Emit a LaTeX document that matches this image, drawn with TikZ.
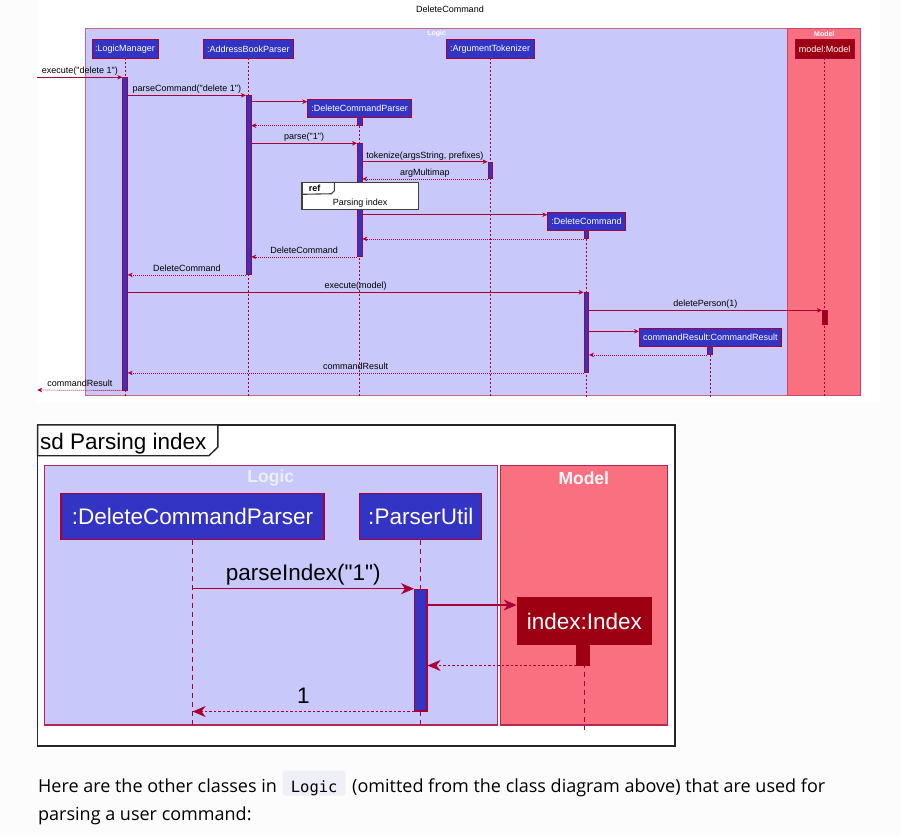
\documentclass[tikz,border=0pt]{standalone}
\usepackage{fontspec}
\setmainfont{Liberation Sans}[Ligatures=TeXOff]
\newfontfamily\pagefont{Open Sans}
\newfontfamily\codefont{DejaVu Sans Mono}
\usetikzlibrary{arrows.meta}

\definecolor{logicBg}{HTML}{C8C8FA}
\definecolor{modelBg}{HTML}{F97181}
\definecolor{logicFill}{HTML}{3333C4}
\definecolor{modelFill}{HTML}{9D0012}
\definecolor{seqLine}{HTML}{A80036}
\definecolor{pageBg}{HTML}{FCFCFC}
\definecolor{codeBg}{HTML}{EFEFF8}

\tikzset{
  small/.style={font=\fontsize{9}{10}\selectfont},
  big/.style={font=\fontsize{22.5}{24}\selectfont},
  part/.style={draw=seqLine, fill=logicFill, text=white, inner sep=0pt, line width=0.8},
  act/.style={draw=seqLine, fill=logicFill, inner sep=0pt, anchor=north, minimum width=4.7, line width=0.6},
  life/.style={draw=seqLine, line width=0.6, dash pattern=on 2 off 2},
  msg/.style={draw=seqLine, line width=0.7, -{Stealth[length=5, width=4.5, inset=1.5]}},
  ret/.style={msg, dash pattern=on 1 off 1},
  lbl/.style={small, anchor=base, yshift=3.5, inner sep=0pt},
  actbig/.style={draw=seqLine, fill=logicFill, inner sep=0pt, anchor=north, line width=1.2},
  lifebig/.style={draw=seqLine, line width=1.2, dash pattern=on 5 off 4},
  msgbig/.style={draw=seqLine, line width=1.3, -{Stealth[length=13, width=11, inset=4]}},
  retbig/.style={msgbig, dash pattern=on 2.5 off 2},
  lblbig/.style={big, anchor=base, yshift=8, inner sep=0pt},
  pagetext/.style={font=\pagefont\fontsize{18}{22}\selectfont, anchor=base west, inner sep=0pt}
}

\begin{document}
\begin{tikzpicture}[x=1pt, y=-1pt]
    \useasboundingbox (0,0) rectangle (901,836);
    \fill[pageBg] (0,0) rectangle (901,836);
    \fill[white] (37,0) rectangle (880,403);
    \fill[white] (37,422) rectangle (677,749);

    %%% DeleteCommand sequence
    \node[small] (title) at (450,9) {DeleteCommand};

    %groups
    \draw[fill=logicBg, draw=seqLine!60, line width=0.7] (85.7,28.7) rectangle (787.7,395);
    \draw[fill=modelBg, draw=seqLine!70, line width=0.7] (787.7,28.7) rectangle (860.7,395);
    \node[text=white, font=\bfseries\fontsize{7}{8}\selectfont] (logicLbl) at (436.7,33.7) {Logic};
    \node[text=white, font=\bfseries\fontsize{7}{8}\selectfont] (modelLbl) at (824.3,33.7) {Model};

    %participants
    \node[part, small, minimum width=66, minimum height=18.5] (lm) at (125,48.8) {:LogicManager};
    \node[part, small, minimum width=90.7, minimum height=18.5] (abp) at (248.4,48.8) {:AddressBookParser};
    \node[part, small, minimum width=88.3, minimum height=18.5] (at) at (490.2,48.8) {:ArgumentTokenizer};
    \node[part, small, fill=modelFill, minimum width=59.3, minimum height=18.5] (mdl) at (824.6,48.8) {model:Model};
    \node[part, small, minimum width=104, minimum height=18.3] (dcp) at (359.7,108.2) {:DeleteCommandParser};
    \node[part, small, minimum width=77.6, minimum height=18] (dc) at (586.5,221.3) {:DeleteCommand};
    \node[part, small, minimum width=142, minimum height=18] (cr) at (710.3,337.3) {commandResult:CommandResult};

    %lifelines
    \foreach \p in {lm,abp,at,mdl,dcp,dc} {
      \draw[life] (\p.south) -- (\p.south |- 0,397);
    }
    \draw[life] (cr.south) -- (cr.south |- 0,398);

    %activations
    \node[act, minimum height=312.7] (aLM) at (125,77.3) {};
    \node[act, minimum height=179] (aABP) at (248.6,95.3) {};
    \node[act, minimum height=7.7] (aDCPa) at (359.7,117.3) {};
    \node[act, minimum height=113] (aDCPb) at (359.7,143.3) {};
    \node[act, minimum height=16.6] (aAT) at (490.2,161.7) {};
    \node[act, minimum height=8] (aDCa) at (586.3,230.3) {};
    \node[act, minimum height=80] (aDCb) at (586.3,292.3) {};
    \node[act, fill=modelFill, minimum height=14] (aMdl) at (824.6,310.3) {};
    \node[act, minimum height=8] (aCR) at (710,346.3) {};

    %ref frame
    \node[draw=black!75, fill=white, line width=1.1, minimum width=116.3, minimum height=27, inner sep=0pt] (ref) at (360.1,195.8) {};
    \node[small, anchor=base] (refTxt) at ([yshift=-10] ref.center) {Parsing index};
    \draw[draw=black!75, line width=1.1] (ref.north west) ++(33,0) -- ++(0,9) -- ++(-3,3) -- (ref.west |- 0,194.3);
    \node[small, font=\bfseries\fontsize{9}{10}\selectfont, anchor=base west] (refTag) at ([xshift=4,yshift=-10] ref.north west) {ref};

    %messages
    \coordinate (extIn) at (37.3,77.3);
    \coordinate (extOut) at (37.3,390);
    \coordinate (mkDCP) at (0,101.7);
    \coordinate (mkDC) at (0,214.7);
    \coordinate (mkCR) at (0,331.3);

    \draw[msg] (extIn) -- (aLM.north west) node[midway, lbl]{execute("delete 1")};
    \draw[msg] (aLM.east |- aABP.north) -- (aABP.north west) node[midway, lbl]{parseCommand("delete 1")};
    \draw[msg] (aABP.east |- mkDCP) -- (dcp.west |- mkDCP);
    \draw[ret] (aDCPa.south west) -- (aABP.east |- aDCPa.south);
    \draw[msg] (aABP.east |- aDCPb.north) -- (aDCPb.north west) node[midway, lbl]{parse("1")};
    \draw[msg] (aDCPb.east |- aAT.north) -- (aAT.north west) node[midway, lbl]{tokenize(argsString, prefixes)};
    \draw[ret] (aAT.south west) -- (aDCPb.east |- aAT.south) node[midway, lbl]{argMultimap};
    \draw[msg] (aDCPb.east |- mkDC) -- (dc.west |- mkDC);
    \draw[ret] (aDCa.south west) -- (aDCPb.east |- aDCa.south);
    \draw[ret] (aDCPb.south west) -- (aABP.east |- aDCPb.south) node[midway, lbl]{DeleteCommand};
    \draw[ret] (aABP.south west) -- (aLM.east |- aABP.south) node[midway, lbl]{DeleteCommand};
    \draw[msg] (aLM.east |- aDCb.north) -- (aDCb.north west) node[midway, lbl]{execute(model)};
    \draw[msg] (aDCb.east |- aMdl.north) -- (aMdl.north west) node[midway, lbl]{deletePerson(1)};
    \draw[msg] (aDCb.east |- mkCR) -- (cr.west |- mkCR);
    \draw[ret] (aCR.south west) -- (aDCb.east |- aCR.south);
    \draw[ret] (aDCb.south west) -- (aLM.east |- aDCb.south) node[midway, lbl]{commandResult};
    \draw[ret] (aLM.south west) -- (extOut) node[midway, lbl]{commandResult};

    %%% sd Parsing index
    \draw[black!85, line width=1.4] (37.6,425) rectangle (675,746);
    \draw[black!85, line width=1.4, fill=white] (37.6,425) -- (217.8,425) -- (217.8,447) -- (209,455.7) -- (37.6,455.7) -- cycle;
    \node[big, anchor=base west, inner sep=0pt] (sdTitle) at (40,449) {sd Parsing index};

    %groups
    \draw[fill=logicBg, draw=seqLine!85, line width=1.3] (44.7,465.7) rectangle (497.6,725);
    \draw[fill=modelBg, draw=seqLine!85, line width=1.3] (500.2,465.7) rectangle (667.4,725);
    \node[text=logicBg!30, font=\bfseries\fontsize{17.5}{19}\selectfont] (logicLblB) at (270.8,478.3) {Logic};
    \node[text=white!95!modelBg, font=\bfseries\fontsize{17.5}{19}\selectfont] (modelLblB) at (583.8,478.3) {Model};

    %participants
    \node[part, big, line width=1.3, minimum width=263, minimum height=46] (dcpB) at (192.6,516.3) {:DeleteCommandParser};
    \node[part, big, line width=1.3, minimum width=121.9, minimum height=46] (puB) at (420.75,516.3) {:ParserUtil};
    \node[part, big, line width=1.3, fill=modelFill, draw=modelFill, minimum width=134, minimum height=46.6] (idxB) at (584.3,621) {index:Index};

    %lifelines
    \draw[lifebig] (dcpB.south) -- (dcpB.south |- 0,727);
    \draw[lifebig] (puB.south) -- (puB.south |- 0,727);
    \draw[lifebig] (idxB.south) -- (idxB.south |- 0,730);

    %activations
    \node[actbig, minimum width=12.3, minimum height=121.6] (aPU) at (420.8,588.7) {};
    \node[actbig, fill=modelFill, draw=modelFill, minimum width=12.7, minimum height=20] (aIdx) at (583.4,644.3) {};

    %messages
    \coordinate (mkIdx) at (0,605);
    \draw[msgbig] (dcpB.south |- aPU.north) -- (aPU.north west) node[midway, lblbig]{parseIndex("1")};
    \draw[msgbig] (aPU.east |- mkIdx) -- (idxB.west |- mkIdx);
    \draw[retbig] (aIdx.south west) -- (aPU.east |- aIdx.south);
    \draw[retbig] (aPU.south west) -- (dcpB.south |- aPU.south) node[midway, lblbig]{1};

    %%% text below
    \node[pagetext] (txtA) at (38,792) {Here are the other classes in};
    \node[fill=codeBg, rounded corners=3, minimum width=63, minimum height=25, inner sep=0pt] (code) at (314.2,783.2) {};
    \node[font=\codefont\fontsize{15.5}{18}\selectfont, anchor=base, inner sep=0pt] (codeTxt) at (code.center |- 0,792) {Logic};
    \node[pagetext] (txtB) at (352,792) {(omitted from the class diagram above) that are used for};
    \node[pagetext] (txtC) at (38,820) {parsing a user command:};
\end{tikzpicture}
\end{document}
